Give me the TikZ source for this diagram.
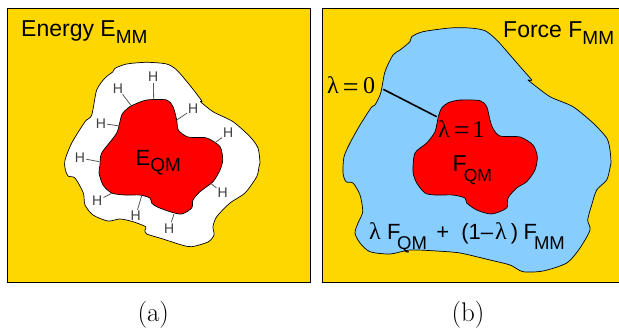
\documentclass[tikz,border=0pt]{standalone}
\usepackage{fontspec}
\setmainfont{Liberation Sans}
\newfontfamily\lamfont{Liberation Serif}
\newfontfamily\capfont{Latin Modern Roman}
\newcommand{\fsz}[1]{\fontsize{#1}{#1}\selectfont}
\newcommand{\lowsub}[1]{\raisebox{-6.5pt}{\fsz{19}#1}}
\newcommand{\deepsub}[1]{\raisebox{-10.5pt}{\fsz{18.5}#1}}
\newcommand{\lamsym}{{\lamfont\fsz{24}λ}}
\newcommand{\eqsym}{\raisebox{-2.2pt}{\fsz{28}=}}
\definecolor{goldbg}{HTML}{FFD700}
\definecolor{bluereg}{HTML}{87CEFF}
\definecolor{redreg}{HTML}{FF0000}
\tikzset{
 panel/.style={draw=black,line width=1pt,fill=goldbg},
 region/.style={draw=black,line width=0.7pt,line join=round},
 label/.style={anchor=base west,inner sep=0pt,text=black},
 hatom/.style={inner sep=1pt,font=\fsz{14},text=black!75},
 bond/.style={draw=black!65,line width=0.8pt},
 caption/.style={anchor=base,inner sep=0pt,font=\fsz{27}\capfont},
 mathlab/.style={anchor=base west,inner sep=0pt,font=\fsz{24}\lamfont},
}
\begin{document}
\begin{tikzpicture}[x=1pt,y=-1pt]
\useasboundingbox (0,0) rectangle (619,329);
% panel a
\draw[panel] (7.5,8.5) rectangle (310,282);
\draw[region,fill=white] plot[smooth cycle,tension=0.45] coordinates {
(115,68.3)(126.7,64)(146.7,62.3)(166.7,64)(176.7,70)(188.3,83.3)(200,98.3)(202,101.5)(200.5,101.7)(213,111.7)(233,121.7)(250,136.7)(258,148)(260,163)(259,166.7)(256.7,176.7)(245,193)(230,203)(216.7,216.7)(213,226.7)(214,235)(208,242)(191.7,246.7)(181.7,245)(163,239)(146.7,234)(145,230)(145.7,226.7)(133,221.7)(120,219)(108,221)(93,215)(85,205)(83.3,193)(75,178)(68,176)(65,168)(65,160)(71.7,143)(85,121.7)(91.7,115)(96.7,90)(105,78)(113,71.7)};
\draw[region,fill=redreg] plot[smooth cycle,tension=0.45] coordinates {
(133,105)(146.7,100)(166.7,100)(173,106.7)(176.7,120)(178.3,130)(188,137)(206.7,138)(220,146.7)(222.7,160)(220,170)(213,181.7)(200,191.7)(193,200)(191.7,208)(181.7,214)(170,211.7)(156.7,206.7)(151.7,203)(150,198)(140,195)(125,195)(111.7,193)(103,185)(99,173)(100,165)(101.7,153)(116.7,133)(121.7,115)(128,108)};
\node[hatom] (h1) at (153.3,77) {H};
\node[hatom] (h2) at (118,88.3) {H};
\node[hatom] (h3) at (193.3,109) {H};
\node[hatom] (h4) at (101,123.3) {H};
\node[hatom] (h5) at (228.3,133) {H};
\node[hatom] (h6) at (80,158) {H};
\node[hatom] (h7) at (222.7,193) {H};
\node[hatom] (h8) at (97.3,200.7) {H};
\node[hatom] (h9) at (135.7,216) {H};
\node[hatom] (h10) at (169.3,228.3) {H};
\coordinate (r1) at (153.7,100);
\coordinate (r2) at (130.7,105);
\coordinate (r3) at (176.7,120);
\coordinate (r4) at (120,126);
\coordinate (r5) at (215,142.7);
\coordinate (r6) at (99.3,161.7);
\coordinate (r7) at (210.7,183.3);
\coordinate (r8) at (111.7,193.3);
\coordinate (r9) at (141.7,195.7);
\coordinate (r10) at (174,214);
\foreach \i in {1,...,10} {\draw[bond] (h\i) -- (r\i);}
\node[label,font=\fsz{23}] (ea) at (21,36.7) {Energy E\lowsub{MM}};
\node[label,font=\fsz{22}] (eq) at (135.5,165) {E\lowsub{QM}};
\node[caption] (capa) at (153.3,321) {(a)};
% panel b
\draw[panel] (322,8.5) rectangle (622,282);
\draw[region,fill=bluereg] plot[smooth cycle,tension=0.45] coordinates {
(411.7,36.7)(423,31.7)(450,28)(470,28)(485,30.7)(496.7,40)(510,55)(523,70)(531.7,80)(528,80)(531.7,83)(550,96.7)(573,106.7)(593,123)(606.7,138)(610,150)(611,163)(610,168)(606.7,180)(596.7,190)(591.7,205)(587.7,220)(590,230)(580,248)(566.7,263)(543,271)(523,271.7)(510,265)(490,260)(460,253)(436.7,251)(410,250)(390,254)(370,251.7)(360,243)(355,233)(358,223)(362.7,211.7)(360,195)(353,183)(346,181.7)(343,173)(344,156.7)(350,143)(360,125)(371.7,107)(375,105)(380.7,93)(385,71.7)(393,55)(400,50)(410,41.7)};
\draw[region,fill=redreg] plot[smooth cycle,tension=0.45] coordinates {
(438.3,116.7)(441.7,108)(448.3,102.7)(460,100)(480,100.7)(486.7,106.7)(490,120)(492.7,128)(500,136)(520,137)(533,145)(537.3,156.7)(535,170)(526.7,181.7)(516.7,188)(508,198)(506.7,208)(491.7,214)(476.7,210)(466.7,203)(465,198)(453,195)(435,195)(425,193)(416.7,183)(413,171.7)(415,153)(426.7,143)(435,131.7)};
\coordinate (l0) at (383.3,89.3);
\coordinate (l1) at (436.7,116.7);
\draw[black,line width=1.6pt] (l0) -- (l1);
\node[label,font=\fsz{23}] (fa) at (503,38) {Force F\lowsub{MM}};
\node[label,font=\fsz{23}] (fq) at (452.5,171.7) {F\hspace{-3pt}\raisebox{-10pt}{\fsz{17.5}QM}};
\node[mathlab] (lz) at (327,94) {\lamsym\hspace{4pt}\eqsym\hspace{4.5pt}0};
\node[mathlab] (lo) at (438,137) {\lamsym\hspace{4pt}\eqsym\hspace{3pt}1};
\node[label,font=\fsz{22}] (mix) at (369,239) {\lamsym\hspace{6.4pt}F\hspace{-3.5pt}\deepsub{QM}\hspace{9.5pt}+\hspace{12pt}(1–\hspace{2pt}\lamsym\hspace{4pt})\hspace{5.5pt}F\hspace{-3pt}\deepsub{MM}};
\node[caption] (capb) at (468,321) {(b)};
\end{tikzpicture}
\end{document}
